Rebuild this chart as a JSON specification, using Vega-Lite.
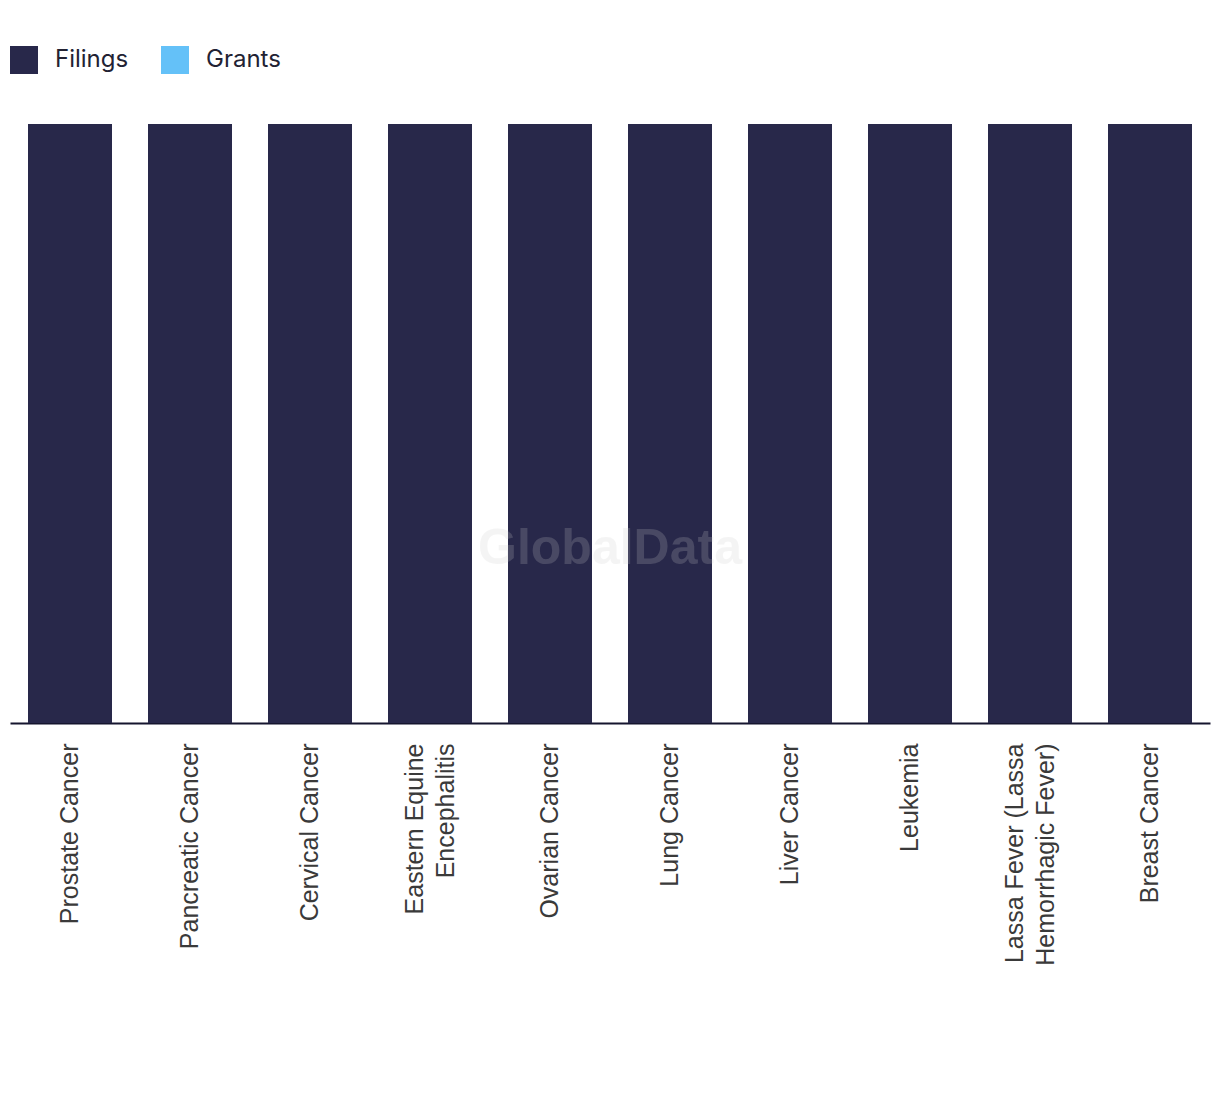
{
  "$schema": "https://vega.github.io/schema/vega-lite/v6.json",
  "width": 1200,
  "height": 599,
  "autosize": {"type": "none"},
  "padding": {"left": 10, "right": 10, "top": 124, "bottom": 371},
  "background": "white",
  "config": {"view": {"stroke": null}, "font": "Liberation Sans"},
  "layer": [
    {
      "data": {
        "values": [
          {"disease": "Prostate Cancer", "type": "Filings", "count": 1},
          {"disease": "Prostate Cancer", "type": "Grants", "count": 0},
          {"disease": "Pancreatic Cancer", "type": "Filings", "count": 1},
          {"disease": "Pancreatic Cancer", "type": "Grants", "count": 0},
          {"disease": "Cervical Cancer", "type": "Filings", "count": 1},
          {"disease": "Cervical Cancer", "type": "Grants", "count": 0},
          {"disease": "Eastern Equine Encephalitis", "type": "Filings", "count": 1},
          {"disease": "Eastern Equine Encephalitis", "type": "Grants", "count": 0},
          {"disease": "Ovarian Cancer", "type": "Filings", "count": 1},
          {"disease": "Ovarian Cancer", "type": "Grants", "count": 0},
          {"disease": "Lung Cancer", "type": "Filings", "count": 1},
          {"disease": "Lung Cancer", "type": "Grants", "count": 0},
          {"disease": "Liver Cancer", "type": "Filings", "count": 1},
          {"disease": "Liver Cancer", "type": "Grants", "count": 0},
          {"disease": "Leukemia", "type": "Filings", "count": 1},
          {"disease": "Leukemia", "type": "Grants", "count": 0},
          {"disease": "Lassa Fever (Lassa Hemorrhagic Fever)", "type": "Filings", "count": 1},
          {"disease": "Lassa Fever (Lassa Hemorrhagic Fever)", "type": "Grants", "count": 0},
          {"disease": "Breast Cancer", "type": "Filings", "count": 1},
          {"disease": "Breast Cancer", "type": "Grants", "count": 0}
        ]
      },
      "mark": {"type": "bar"},
      "encoding": {
        "x": {
          "field": "disease",
          "type": "nominal",
          "sort": null,
          "scale": {"paddingInner": 0.3, "paddingOuter": 0.15},
          "axis": {
            "title": null,
            "labelAngle": -90,
            "labelAlign": "right",
            "labelBaseline": "middle",
            "labelFontSize": 25,
            "labelColor": "#3a3a3a",
            "labelPadding": 20,
            "labelLimit": 0,
            "labelLineHeight": 31,
            "labelOffset": {
              "condition": {
                "test": "datum.value == 'Eastern Equine Encephalitis' || datum.value == 'Lassa Fever (Lassa Hemorrhagic Fever)'",
                "value": -15
              },
              "value": 0
            },
            "ticks": false,
            "domainColor": "#15152e",
            "domainWidth": 2,
            "labelExpr": "datum.label == 'Eastern Equine Encephalitis' ? ['Eastern Equine', 'Encephalitis'] : datum.label == 'Lassa Fever (Lassa Hemorrhagic Fever)' ? ['Lassa Fever (Lassa', 'Hemorrhagic Fever)'] : datum.label"
          }
        },
        "y": {
          "field": "count",
          "type": "quantitative",
          "stack": "zero",
          "scale": {"domain": [0, 1]},
          "axis": null
        },
        "color": {
          "field": "type",
          "type": "nominal",
          "scale": {"domain": ["Filings", "Grants"], "range": ["#28284a", "#64c1f8"]},
          "legend": {
            "orient": "none",
            "legendX": 0,
            "legendY": -78,
            "direction": "horizontal",
            "title": null,
            "symbolType": "square",
            "symbolSize": 784,
            "symbolStrokeWidth": 0,
            "symbolOpacity": 1,
            "labelFont": "Inter",
            "labelFontSize": 24,
            "labelColor": "#222233",
            "labelOffset": 17,
            "columnPadding": 32
          }
        },
        "order": {"field": "type", "sort": "ascending"}
      }
    },
    {
      "data": {"values": [{"label": "GlobalData"}]},
      "mark": {
        "type": "text",
        "font": "Liberation Sans",
        "fontWeight": "bold",
        "fontSize": 50,
        "fill": "#cccccc",
        "opacity": 0.2,
        "baseline": "middle",
        "align": "center"
      },
      "encoding": {
        "text": {"field": "label"},
        "x": {"datum": 0.5, "type": "quantitative", "scale": {"domain": [0, 1]}, "axis": null},
        "y": {"datum": 0.29, "type": "quantitative"}
      }
    }
  ],
  "resolve": {"scale": {"x": "independent"}}
}
